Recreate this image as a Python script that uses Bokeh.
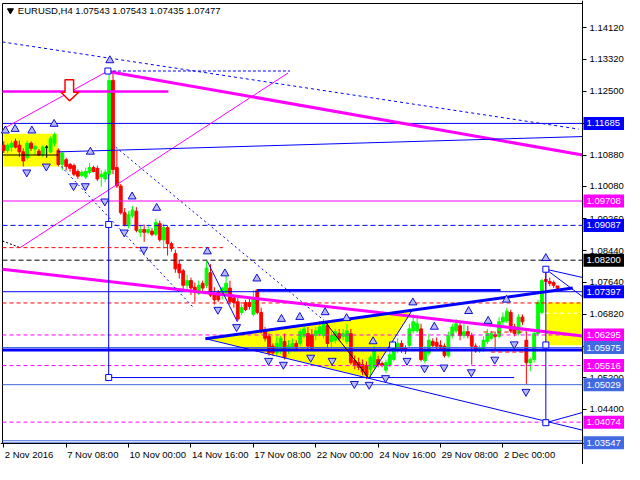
from bokeh.plotting import figure
from bokeh.models import Range1d, FixedTicker, PrintfTickFormatter, Label, LinearAxis
from bokeh.core.properties import value
from bokeh.embed import file_html
from bokeh.resources import INLINE

# ---------------- data (EURUSD H4, bar 0 = 2 Nov 2016 16:00) ----------------
opens = [
1.1113, 1.1100, 1.1108, 1.1123, 1.1113, 1.1096, 1.1081, 1.1118, 1.1103, 1.1098,
1.1088, 1.1108, 1.1096, 1.1118, 1.1100, 1.1064, 1.1076, 1.1064, 1.1061, 1.1046,
1.1036, 1.1032, 1.1044, 1.1056, 1.1054, 1.1032, 1.1027, 1.1039, 1.1278, 1.1056,
1.1009, 1.0941, 1.0908, 1.0933, 1.0945, 1.0891, 1.0898, 1.0891, 1.0894, 1.0886,
1.0913, 1.0872, 1.0903, 1.0862, 1.0837, 1.0810, 1.0793, 1.0756, 1.0768, 1.0751,
1.0736, 1.0761, 1.0756, 1.0788, 1.0736, 1.0739, 1.0731, 1.0736, 1.0749, 1.0724,
1.0714, 1.0687, 1.0712, 1.0712, 1.0682, 1.0744, 1.0687, 1.0640, 1.0626, 1.0601,
1.0584, 1.0589, 1.0613, 1.0589, 1.0596, 1.0608, 1.0608, 1.0626, 1.0633, 1.0630,
1.0628, 1.0633, 1.0628, 1.0653, 1.0613, 1.0616, 1.0633, 1.0626, 1.0613, 1.0633,
1.0564, 1.0559, 1.0554, 1.0552, 1.0542, 1.0547, 1.0567, 1.0557, 1.0540, 1.0554,
1.0567, 1.0591, 1.0608, 1.0596, 1.0603, 1.0640, 1.0640, 1.0645, 1.0564, 1.0584,
1.0613, 1.0611, 1.0603, 1.0601, 1.0577, 1.0628, 1.0640, 1.0653, 1.0628, 1.0638,
1.0628, 1.0601, 1.0589, 1.0591, 1.0613, 1.0621, 1.0630, 1.0626, 1.0663, 1.0665,
1.0687, 1.0650, 1.0633, 1.0675, 1.0616, 1.0559, 1.0567, 1.0633, 1.0687, 1.0771,
1.0766, 1.0763, 1.07543]
highs = [
1.1123, 1.1118, 1.1125, 1.1130, 1.1125, 1.1105, 1.1125, 1.1123, 1.1113, 1.1103,
1.1113, 1.1113, 1.1135, 1.1145, 1.1105, 1.1098, 1.1081, 1.1068, 1.1066, 1.1051,
1.1049, 1.1056, 1.1068, 1.1061, 1.1061, 1.1049, 1.1051, 1.1302, 1.1297, 1.1100,
1.1014, 1.0953, 1.0945, 1.0958, 1.0955, 1.0908, 1.0911, 1.0908, 1.0901, 1.0926,
1.0921, 1.0913, 1.0908, 1.0867, 1.0847, 1.0818, 1.0798, 1.0783, 1.0776, 1.0763,
1.0768, 1.0768, 1.0818, 1.0810, 1.0751, 1.0744, 1.0751, 1.0781, 1.0768, 1.0731,
1.0724, 1.0707, 1.0719, 1.0724, 1.0744, 1.0746, 1.0699, 1.0650, 1.0633, 1.0608,
1.0626, 1.0628, 1.0633, 1.0616, 1.0621, 1.0616, 1.0645, 1.0653, 1.0650, 1.0645,
1.0650, 1.0665, 1.0670, 1.0663, 1.0638, 1.0645, 1.0645, 1.0645, 1.0658, 1.0645,
1.0577, 1.0572, 1.0567, 1.0562, 1.0577, 1.0601, 1.0577, 1.0562, 1.0567, 1.0591,
1.0608, 1.0621, 1.0616, 1.0603, 1.0658, 1.0682, 1.0680, 1.0658, 1.0601, 1.0633,
1.0621, 1.0623, 1.0616, 1.0608, 1.0638, 1.0658, 1.0670, 1.0663, 1.0658, 1.0653,
1.0635, 1.0608, 1.0603, 1.0626, 1.0645, 1.0640, 1.0638, 1.0675, 1.0687, 1.0699,
1.0694, 1.0658, 1.0682, 1.0682, 1.0638, 1.0572, 1.0640, 1.0719, 1.0773, 1.0798,
1.0776, 1.0768, 1.07543]
lows = [
1.1093, 1.1093, 1.1096, 1.1105, 1.1083, 1.1059, 1.1076, 1.1098, 1.1088, 1.1086,
1.1083, 1.1081, 1.1093, 1.1110, 1.1059, 1.1049, 1.1049, 1.1046, 1.1034, 1.1027,
1.1032, 1.1027, 1.1039, 1.1044, 1.1022, 1.1007, 1.1019, 1.1034, 1.1039, 1.1004,
1.0936, 1.0906, 1.0901, 1.0928, 1.0891, 1.0879, 1.0867, 1.0886, 1.0881, 1.0881,
1.0867, 1.0850, 1.0832, 1.0842, 1.0788, 1.0773, 1.0744, 1.0744, 1.0731, 1.0714,
1.0731, 1.0741, 1.0749, 1.0726, 1.0707, 1.0714, 1.0719, 1.0731, 1.0707, 1.0699,
1.0665, 1.0680, 1.0690, 1.0694, 1.0677, 1.0682, 1.0633, 1.0613, 1.0577, 1.0577,
1.0577, 1.0581, 1.0567, 1.0581, 1.0589, 1.0589, 1.0601, 1.0621, 1.0591, 1.0591,
1.0616, 1.0626, 1.0621, 1.0596, 1.0596, 1.0608, 1.0613, 1.0616, 1.0606, 1.0554,
1.0542, 1.0540, 1.0527, 1.0517, 1.0522, 1.0542, 1.0547, 1.0547, 1.0532, 1.0547,
1.0562, 1.0584, 1.0584, 1.0581, 1.0596, 1.0633, 1.0635, 1.0562, 1.0557, 1.0577,
1.0596, 1.0591, 1.0589, 1.0572, 1.0572, 1.0621, 1.0635, 1.0616, 1.0621, 1.0621,
1.0554, 1.0584, 1.0584, 1.0586, 1.0606, 1.0616, 1.0589, 1.0621, 1.0655, 1.0660,
1.0635, 1.0626, 1.0628, 1.0655, 1.0505, 1.0537, 1.0559, 1.0628, 1.0682, 1.0744,
1.0754, 1.0749, 1.07435]
closes = [
1.1100, 1.1113, 1.1118, 1.1108, 1.1096, 1.1073, 1.1118, 1.1105, 1.1110, 1.1088,
1.1108, 1.1108, 1.1130, 1.1140, 1.1064, 1.1093, 1.1059, 1.1054, 1.1039, 1.1034,
1.1044, 1.1046, 1.1056, 1.1046, 1.1027, 1.1039, 1.1044, 1.1278, 1.1051, 1.1009,
1.0941, 1.0911, 1.0936, 1.0948, 1.0896, 1.0898, 1.0891, 1.0898, 1.0886, 1.0916,
1.0872, 1.0903, 1.0862, 1.0850, 1.0798, 1.0788, 1.0756, 1.0768, 1.0749, 1.0739,
1.0756, 1.0749, 1.0800, 1.0731, 1.0719, 1.0719, 1.0749, 1.0761, 1.0714, 1.0712,
1.0670, 1.0699, 1.0694, 1.0702, 1.0724, 1.0687, 1.0638, 1.0621, 1.0584, 1.0584,
1.0608, 1.0621, 1.0572, 1.0603, 1.0608, 1.0596, 1.0638, 1.0645, 1.0601, 1.0596,
1.0640, 1.0650, 1.0663, 1.0608, 1.0628, 1.0638, 1.0621, 1.0633, 1.0640, 1.0559,
1.0552, 1.0547, 1.0535, 1.0527, 1.0572, 1.0589, 1.0554, 1.0552, 1.0559, 1.0579,
1.0596, 1.0608, 1.0591, 1.0589, 1.0645, 1.0663, 1.0658, 1.0567, 1.0589, 1.0616,
1.0603, 1.0601, 1.0596, 1.0577, 1.0628, 1.0650, 1.0658, 1.0628, 1.0638, 1.0628,
1.0601, 1.0589, 1.0596, 1.0616, 1.0633, 1.0633, 1.0626, 1.0663, 1.0675, 1.0690,
1.0640, 1.0633, 1.0675, 1.0663, 1.0559, 1.0567, 1.0633, 1.0712, 1.0768, 1.0766,
1.0761, 1.0756, 1.07477]

x_tick_bars = [0, 16, 32, 48, 64, 80, 96, 112, 128]
x_tick_labels = ["2 Nov 2016", "7 Nov 08:00", "10 Nov 00:00", "14 Nov 16:00", "17 Nov 08:00",
                 "22 Nov 00:00", "24 Nov 16:00", "29 Nov 08:00", "2 Dec 00:00"]
y_ticks = [1.14120, 1.13320, 1.12500, 1.11680, 1.10880, 1.10080, 1.09260, 1.08440,
           1.07640, 1.06820, 1.06000, 1.05200, 1.04400]

# horizontal levels (price, colour, dash)
level_prices = [1.11685, 1.09708, 1.09087, 1.08200, 1.07397, 1.06295, 1.05975,
                1.05516, 1.05029, 1.04074, 1.03547]
level_colors = ["#0000FF", "#FF00FF", "#0000FF", "#000000", "#0000FF", "#FF00FF",
                "#4169E1", "#FF00FF", "#4169E1", "#FF00FF", "#4169E1"]
level_dashes = ["solid", "solid", "5 3", "5 3", "solid", "4 3", "solid", "4 3",
                "solid", "4 3", "solid"]
extra_levels = [(1.0591, "#0000FF", "solid", 3), (1.0711, "#FF0000", "4 3", 1),
                (1.0360, "#4169E1", "solid", 1)]

# trend lines: (x0, y0, x1, y1, colour, width, dash)
trend_lines = [
    (26.7, 1.1301, 148.4, 1.1088, "#FF00FF", 3, "solid"),
    (-0.33, 1.0797, 148.4, 1.0627, "#FF00FF", 3, "solid"),
    (-0.33, 1.1250, 42.2, 1.1250, "#FF00FF", 2.5, "solid"),
    (-0.1, 1.1155, 26.7, 1.1302, "#FF00FF", 1, "solid"),
    (4.2, 1.0852, 72.9, 1.1297, "#FF00FF", 1, "solid"),
    (-0.33, 1.1376, 147.4, 1.1154, "#0000FF", 1, "3 3"),
    (26.7, 1.1302, 73.4, 1.1302, "#0000FF", 1, "3 2"),
    (28.7, 1.1108, 81.7, 1.0670, "#0000FF", 1, "2 3"),
    (14.7, 1.1059, 48.4, 1.0702, "#0000FF", 1, "2 3"),
    (14.0, 1.1096, 148.4, 1.1135, "#0000FF", 1, "solid"),
    (26.9, 1.1039, 26.9, 1.0521, "#0000FF", 1, "solid"),
    (26.9, 1.0521, 130.9, 1.0521, "#0000FF", 1, "solid"),
    (51.7, 1.0620, 148.4, 1.0387, "#0000FF", 1, "solid"),
    (139.0, 1.0797, 139.0, 1.0406, "#0000FF", 1, "solid"),
    (139.0, 1.0406, 148.4, 1.0432, "#0000FF", 1, "solid"),
    (139.0, 1.0797, 148.4, 1.0776, "#0000FF", 1, "solid"),
    (139.0, 1.0797, 148.4, 1.0727, "#0000FF", 1, "solid"),
    (52.2, 1.0817, 59.9, 1.0663, "#0000FF", 1, "solid"),
    (93.7, 1.0520, 104.7, 1.0692, "#0000FF", 1, "solid"),
    (51.7, 1.0620, 145.9, 1.0749, "#0000FF", 3, "solid"),
    (65.0, 1.0744, 127.4, 1.0744, "#0000FF", 2, "solid"),
    (-0.33, 1.0869, 4.2, 1.0852, "#000000", 1, "2 2"),
    (-0.33, 1.1088, 14.0, 1.1088, "#000000", 1, "solid"),
    (82.4, 1.0663, 93.4, 1.0522, "#000000", 1, "solid"),
    (-0.33, 1.0852, 56.2, 1.0852, "#FF0000", 1, "4 3"),
    (125.0, 1.0586, 133.4, 1.0586, "#FF0000", 1, "4 3"),
    (123.0, 1.0637, 134.0, 1.0637, "#FF0000", 1, "4 3"),
    (139.0, 1.0685, 148.4, 1.0685, "#FFFFFF", 1, "4 3"),
]

# yellow areas
rect_left = [-0.1, 139.0]
rect_right = [13.9, 148.4]
rect_bottom = [1.1059, 1.0603]
rect_top = [1.1142, 1.0712]
tri_x = [51.7, 104.7, 93.7]
tri_y = [1.0620, 1.0692, 1.0520]

# red hollow down arrow
arrow_x = [15.7, 17.9, 17.9, 19.2, 16.85, 14.7, 15.7]
arrow_y = [1.1280, 1.1280, 1.1248, 1.1248, 1.1226, 1.1248, 1.1248]

# small square points
sq_x = [26.9, 26.9, 139.0, 139.0, 139.0, 99.7, 26.7]
sq_y = [1.0911, 1.0521, 1.0797, 1.0604, 1.0406, 1.0604, 1.1302]

# fractal arrows
up_x = [27.2, 12.9, 0.4, 2.9, 7.2, 22.2, 32.9, 39.2, 52.2, 56.7, 64.9, 71.2, 75.9,
        82.4, 87.9, 94.7, 104.9, 110.4, 119.2, 124.2, 128.9, 139.0]
up_y = [1.1329, 1.1167, 1.1150, 1.1154, 1.1150, 1.1096, 1.0982, 1.0953, 1.0842,
        1.0786, 1.0773, 1.0670, 1.0675, 1.0687, 1.0672, 1.0613, 1.0712, 1.0650,
        1.0690, 1.0665, 1.0719, 1.0825]
dn_x = [5.9, 10.9, 17.9, 20.9, 25.9, 30.9, 35.9, 54.9, 59.7, 67.9, 71.7, 78.7, 84.2,
        89.9, 93.7, 97.9, 103.4, 107.9, 112.9, 119.9, 125.9, 130.9, 133.9]
dn_y = [1.1044, 1.1059, 1.1009, 1.1009, 1.0970, 1.0891, 1.0847, 1.0694, 1.0650,
        1.0564, 1.0554, 1.0572, 1.0564, 1.0505, 1.0503, 1.0520, 1.0564, 1.0545,
        1.0547, 1.0535, 1.0567, 1.0606, 1.0485]

# ---------------- figure ----------------
X0, X1 = -0.33, 148.4          # chart area (bars)
Y0, Y1 = 1.0353, 1.1474        # chart area (price)
W, H = 624, 464
FW, FH = 580, 440              # chart area in pixels
bpp = (X1 - X0) / FW
upp = (Y1 - Y0) / FH
FONT = "Liberation Sans"
FS = "9.5px"

p = figure(width=W, height=H,
           x_range=Range1d(X0 - 2 * bpp, X1 + (W - FW - 2) * bpp),
           y_range=Range1d(Y0 - (H - FH - 3) * upp, Y1 + 3 * upp),
           x_axis_type=None, y_axis_type=None,
           output_backend="svg", toolbar_location=None,
           min_border_left=0, min_border_right=0, min_border_top=0, min_border_bottom=0)
p.xgrid.visible = False
p.ygrid.visible = False
p.outline_line_color = None
p.background_fill_color = "white"
p.border_fill_color = "white"

# axes drawn at the edges of the chart area
xax = LinearAxis(fixed_location=Y0, ticker=FixedTicker(ticks=x_tick_bars),
                 major_label_overrides={t: "" for t in x_tick_bars},
                 major_tick_out=4, major_tick_in=0, minor_tick_line_color=None,
                 axis_line_color="black", major_tick_line_color="black")
p.add_layout(xax, "below")
yax = LinearAxis(fixed_location=X1, ticker=FixedTicker(ticks=y_ticks),
                 formatter=PrintfTickFormatter(format="%.5f"),
                 major_tick_out=4, major_tick_in=0, minor_tick_line_color=None,
                 major_label_standoff=3, major_label_text_font=FONT,
                 major_label_text_font_size=FS, major_label_text_color="black",
                 axis_line_color="black", major_tick_line_color="black")
p.add_layout(yax, "right")

# chart frame (left and top border)
p.segment(x0=[X0, X0], y0=[Y0, Y1], x1=[X0, X1], y1=[Y1, Y1], line_color="black", line_width=1)

# yellow backgrounds
p.quad(left=rect_left, right=rect_right, bottom=rect_bottom, top=rect_top,
       fill_color="#FFFF00", line_color=None)
p.patch(tri_x, tri_y, fill_color="#FFFF00", line_color=None)

# candles
idx = list(range(len(closes)))
cols = ["#00FF00" if c > o else ("#FF0000" if c < o else "#000000") for o, c in zip(opens, closes)]
p.segment(x0=idx, y0=lows, x1=idx, y1=highs, line_color=cols, line_width=1)
p.vbar(x=idx, width=0.72, top=[max(o, c) for o, c in zip(opens, closes)],
       bottom=[min(o, c) for o, c in zip(opens, closes)], fill_color=cols, line_color=cols)

# level lines across the chart area
for pr, col, dash in zip(level_prices, level_colors, level_dashes):
    p.segment(x0=[X0], y0=[pr], x1=[X1], y1=[pr], line_color=col, line_dash=dash, line_width=1)
for pr, col, dash, w in extra_levels:
    p.segment(x0=[X0], y0=[pr], x1=[X1], y1=[pr], line_color=col, line_dash=dash, line_width=w)

# trend lines
for x0, y0, x1, y1, col, w, dash in trend_lines:
    p.segment(x0=[x0], y0=[y0], x1=[x1], y1=[y1], line_color=col, line_width=w, line_dash=dash)

# arrow and markers
p.patch(arrow_x, arrow_y, fill_color="white", line_color="#FF0000", line_width=1.5)
p.scatter(sq_x, sq_y, marker="square", size=6, fill_color="white", line_color="#0000FF")
p.scatter(up_x, up_y, marker="triangle", size=8, fill_color="#B8B8FF", line_color="#1010D0")
p.scatter(dn_x, dn_y, marker="inverted_triangle", size=8, fill_color="#B8B8FF", line_color="#1010D0")

# header
p.scatter([1.7], [Y1 - 7 * upp], marker="inverted_triangle", size=6, color="black")
p.add_layout(Label(x=3.6, y=Y1 - 7 * upp,
                   text="EURUSD,H4  %.5f %.5f %.5f %.5f" % (opens[-1], highs[-1], lows[-1], closes[-1]),
                   text_font=FONT, text_font_size=FS, text_baseline="middle", text_align="left",
                   text_color="black"))

# date labels (left-aligned at their ticks)
for t, lab in zip(x_tick_bars, x_tick_labels):
    p.add_layout(Label(x=t, y=Y0 - 11 * upp, text=lab, x_offset=1,
                       text_font=FONT, text_font_size=FS, text_baseline="middle",
                       text_align="left", text_color="black"))

# coloured price labels on the right (drawn above the axis)
p.quad(left=[X1 + 1 * bpp] * len(level_prices), right=[X1 + (W - FW - 2) * bpp] * len(level_prices),
       bottom=[v - 6.5 * upp for v in level_prices], top=[v + 6.5 * upp for v in level_prices],
       fill_color=level_colors, line_color=None, level="overlay")
p.text(x=[X1 + 4 * bpp] * len(level_prices), y=level_prices,
       text=["%.5f" % v for v in level_prices], text_color="white",
       text_font=value(FONT), text_font_size=value(FS), text_baseline="middle",
       text_align="left", level="overlay")

open("out.html", "w").write(file_html(p, INLINE))
